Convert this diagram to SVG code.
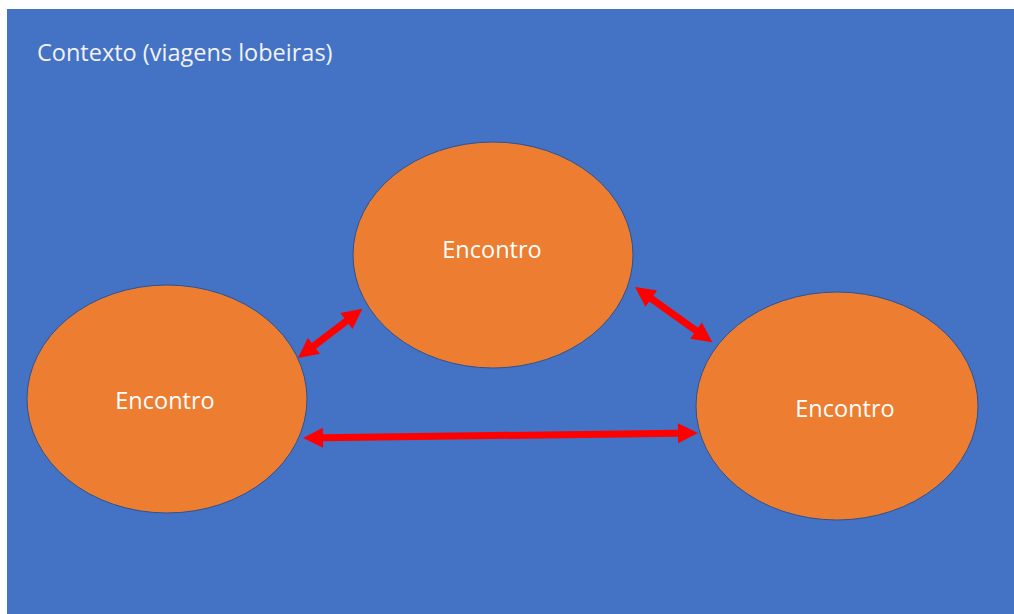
<svg xmlns="http://www.w3.org/2000/svg" width="1014" height="614" viewBox="0 0 1014 614">
<style>
.node{fill:#ED7D31;stroke:#2F528F;stroke-width:1}
.lbl{font-family:"Open Sans","Liberation Sans",sans-serif;font-size:23.5px;fill:#FFFFFF;text-anchor:middle}
.arr{fill:#FF0000}
</style>
<rect x="0" y="0" width="1014" height="614" fill="#FFFFFF"/>
<rect x="7" y="9" width="1007" height="605" fill="#4472C4"/>
<text x="37" y="61" style="font-family:'Open Sans','Liberation Sans',sans-serif;font-size:23.5px;fill:#F2F2F2">Contexto (viagens lobeiras)</text>
<g id="node-top">
<ellipse class="node" cx="493" cy="255" rx="140" ry="113"/>
<text class="lbl" x="492" y="258">Encontro</text>
</g>
<g id="node-left">
<ellipse class="node" cx="167" cy="399" rx="140" ry="114"/>
<text class="lbl" x="165" y="409">Encontro</text>
</g>
<g id="node-right">
<ellipse class="node" cx="837" cy="406" rx="141" ry="114"/>
<text class="lbl" x="845" y="417">Encontro</text>
</g>
<g id="connectors" class="arr">
<path transform="translate(298,358) rotate(-37.4)" d="M0,0 L20,-10 L20,-3.5 L61,-3.5 L61,-10 L81,0 L61,10 L61,3.5 L20,3.5 L20,10 Z"/>
<path transform="translate(635,287) rotate(35.5)" d="M0,0 L20,-10 L20,-3.5 L75,-3.5 L75,-10 L95,0 L75,10 L75,3.5 L20,3.5 L20,10 Z"/>
<path transform="translate(303,438) rotate(-0.73)" d="M0,0 L20,-10 L20,-3.5 L375,-3.5 L375,-10 L395,0 L375,10 L375,3.5 L20,3.5 L20,10 Z"/>
</g>
</svg>
